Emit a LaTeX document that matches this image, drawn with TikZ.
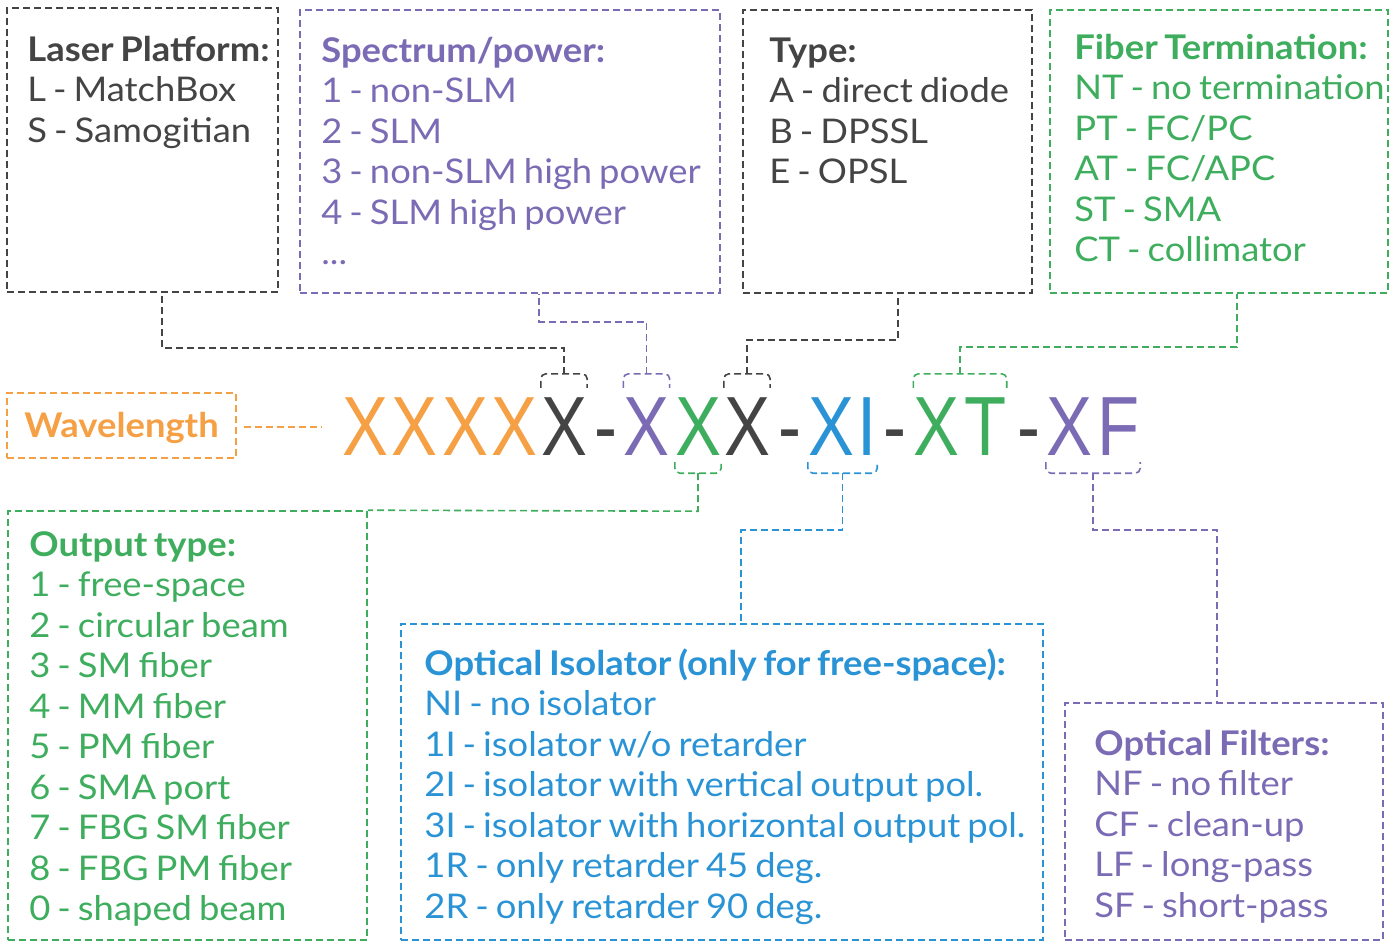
\documentclass[tikz,border=0pt]{standalone}
\usepackage{graphicx}
\usepackage{fontspec}
\setmainfont{Lato}[FakeStretch=1.07, WordSpace=0.75]
\newfontfamily\codefamily{Liberation Sans}
\usetikzlibrary{positioning, calc}
\definecolor{graphite}{HTML}{444444}
\definecolor{lavender}{HTML}{7B6BB5}
\definecolor{leaf}{HTML}{3EAE5E}
\definecolor{amber}{HTML}{F5A045}
\definecolor{sky}{HTML}{2A93D5}
\newcommand{\codech}[1]{\scalebox{0.82}[1]{#1}}

\begin{document}
\begin{tikzpicture}[x=1pt, y=-1pt,
  box/.style={draw=#1, dash pattern=on 7pt off 4pt, line width=1.6pt, inner sep=0pt},
  link/.style={draw=#1, dash pattern=on 7pt off 4pt, line width=1.6pt},
  txt/.style={text=#1, font=\fontsize{34}{40.5}\selectfont, align=left, inner sep=0pt, anchor=base west},
  code/.style={text=#1, font=\codefamily\fontsize{84}{84}\selectfont, inner sep=0pt,
               text height=60pt, text depth=0pt, anchor=base}]
  \useasboundingbox (0,0) rectangle (1396,942);

  % the order code
  \foreach \ch/\col/\xx [count=\i] in {X/amber/365.5, X/amber/414, X/amber/465, X/amber/514,
      X/graphite/564, -/graphite/605.5, X/lavender/646.5, X/leaf/698, X/graphite/747,
      -/graphite/789.5, X/sky/831, I/sky/867.5, -/graphite/895, X/leaf/936.5, T/leaf/985.5,
      -/graphite/1028.5, X/lavender/1069, F/lavender/1119}
    \node[code=\col] (c\i) at (\xx,455) {\codech{\ch}};

  % boxes on top
  \node[box=graphite, minimum width=271, minimum height=284] (platform) at (142.5,150) {};
  \node[box=lavender, minimum width=420, minimum height=283] (spectrum) at (510,151.5) {};
  \node[box=graphite, minimum width=289, minimum height=283] (type) at (887.5,151.5) {};
  \node[box=leaf, minimum width=338, minimum height=283] (fiber) at (1219,151.5) {};
  \node[box=amber, minimum width=229, minimum height=65] (wave) at (121.5,425.5) {};
  % boxes below
  \node[box=leaf, minimum width=359, minimum height=429] (output) at (187.5,725.5) {};
  \node[box=sky, minimum width=642, minimum height=316] (isolator) at (722,782) {};
  \node[box=lavender, minimum width=318, minimum height=237] (filters) at (1224,821.5) {};

  % texts, placed by the baseline of their last line
  \node[txt=graphite] (platform-txt) at ($(platform.north west)+(21,135)$)
    {\textbf{Laser Platform:}\\L - MatchBox\\S - Samogitian};
  \node[txt=lavender] (spectrum-txt) at ($(spectrum.north west)+(22,255.5)$)
    {\textbf{Spectrum/power:}\\1 - non-SLM\\2 - SLM\\3 - non-SLM high power\\4 - SLM high power\\...};
  \node[txt=graphite] (type-txt) at ($(type.north west)+(27,174.5)$)
    {\textbf{Type:}\\A - direct diode\\B - DPSSL\\E - OPSL};
  \node[txt=leaf] (fiber-txt) at ($(fiber.north west)+(25,252.5)$)
    {\textbf{Fiber Termination:}\\NT - no termination\\PT - FC/PC\\AT - FC/APC\\ST - SMA\\CT - collimator};
  \node[txt=amber] (wave-txt) at ($(wave.west)+(18,11.5)$) {\textbf{Wavelength}};
  \node[txt=leaf] (output-txt) at ($(output.north west)+(22,410.5)$)
    {\textbf{Output type:}\\1 - free-space\\2 - circular beam\\3 - SM fiber\\4 - MM fiber\\5 - PM fiber\\6 - SMA port\\7 - FBG SM fiber\\8 - FBG PM fiber\\0 - shaped beam};
  \node[txt=sky] (isolator-txt) at ($(isolator.north west)+(24,295)$)
    {\textbf{Optical Isolator (only for free-space):}\\NI - no isolator\\1I - isolator w/o retarder\\2I - isolator with vertical output pol.\\3I - isolator with horizontal output pol.\\1R - only retarder 45 deg.\\2R - only retarder 90 deg.};
  \node[txt=lavender] (filters-txt) at ($(filters.north west)+(30,215)$)
    {\textbf{Optical Filters:}\\NF - no filter\\CF - clean-up\\LF - long-pass\\SF - short-pass};

  % brackets over the code
  \draw[link=graphite, rounded corners=5] ($(c5.north west)+(0,-7)$) |- ($(c5.north)+(0,-21)$) -| ($(c5.north east)+(0,-7)$);
  \draw[link=lavender, rounded corners=5] ($(c7.north west)+(0,-7)$) |- ($(c7.north)+(0,-21)$) -| ($(c7.north east)+(0,-7)$);
  \draw[link=graphite, rounded corners=5] ($(c9.north west)+(0,-7)$) |- ($(c9.north)+(0,-21)$) -| ($(c9.north east)+(0,-7)$);
  \draw[link=leaf, rounded corners=5] ($(c14.north west)+(0,-7)$) |- ($(c14.north west)!0.5!(c15.north east)+(0,-21)$) -| ($(c15.north east)+(0,-7)$);
  \draw[link=leaf, rounded corners=5] ($(c8.south west)+(0,7)$) |- ($(c8.south)+(0,18)$) -| ($(c8.south east)+(0,7)$);
  \draw[link=sky, rounded corners=5] ($(c11.south west)+(0,7)$) |- ($(c11.south west)!0.5!(c12.south east)+(0,18)$) -| ($(c12.south east)+(0,7)$);
  \draw[link=lavender, rounded corners=5] ($(c17.south west)+(0,7)$) |- ($(c17.south west)!0.5!(c18.south east)+(0,18)$) -| ($(c18.south east)+(0,7)$);

  % connectors
  \draw[link=graphite] ($(c5.north)+(0,-21)$) -- ++(0,-26) -| ($(platform.south)+(19.5,0)$);
  \draw[link=lavender] ($(c7.north)+(0,-21)$) -- ++(0,-52) -| ($(spectrum.south)+(29,0)$);
  \draw[link=graphite] ($(c9.north)+(0,-21)$) -- ++(0,-34) -| ($(type.south)+(10.5,0)$);
  \draw[link=leaf] ($(c14.north west)!0.5!(c15.north east)+(0,-21)$) -- ++(0,-27) -| ($(fiber.south)+(18,0)$);
  \draw[link=leaf] ($(c8.south)+(0,18)$) -- ++(0,38) -- (output.north east);
  \draw[link=sky] ($(c11.south west)!0.5!(c12.south east)+(0,18)$) -- ++(0,57) -| ($(isolator.north)+(19,0)$);
  \draw[link=lavender] ($(c17.south west)!0.5!(c18.south east)+(0,18)$) -- ++(0,57) -| ($(filters.north)+(-7,0)$);
  \coordinate (wave-end) at (322,427);
  \draw[link=amber] ($(wave.east)+(7,1.5)$) -- (wave-end);
\end{tikzpicture}
\end{document}
